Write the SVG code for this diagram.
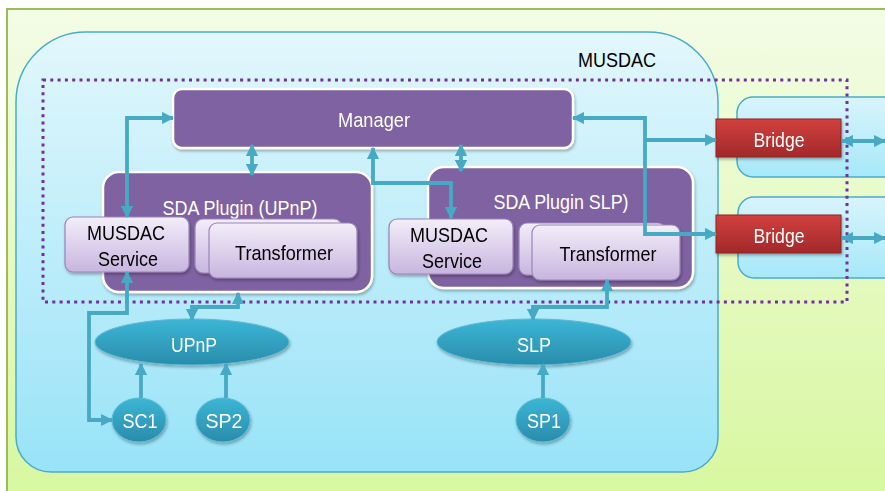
<svg xmlns="http://www.w3.org/2000/svg" width="885" height="491" viewBox="0 0 885 491">
<defs>
<linearGradient id="gBg" x1="0" y1="0" x2="0" y2="1"><stop offset="0" stop-color="#f3fce5"/><stop offset="1" stop-color="#d8f7a0"/></linearGradient>
<linearGradient id="gCyan" x1="0" y1="0" x2="0" y2="1"><stop offset="0" stop-color="#e2f7fc"/><stop offset="1" stop-color="#98e3f8"/></linearGradient>
<linearGradient id="gSide" x1="0" y1="0" x2="0" y2="1"><stop offset="0" stop-color="#d8f4fc"/><stop offset="1" stop-color="#a6e8f9"/></linearGradient>
<linearGradient id="gCard" x1="0" y1="0" x2="0" y2="1"><stop offset="0" stop-color="#f3eef9"/><stop offset="1" stop-color="#c8b5df"/></linearGradient>
<linearGradient id="gRed" x1="0" y1="0" x2="0" y2="1"><stop offset="0" stop-color="#d1403e"/><stop offset="1" stop-color="#a2292a"/></linearGradient>
<linearGradient id="gTeal" x1="0" y1="0" x2="0" y2="1"><stop offset="0" stop-color="#3cb6d6"/><stop offset="1" stop-color="#2a8cab"/></linearGradient>
<filter id="sh" x="-10%" y="-10%" width="125%" height="135%"><feDropShadow dx="1" dy="2" stdDeviation="1.5" flood-color="#000" flood-opacity="0.3"/></filter>
<marker id="ah" viewBox="0 0 10 10" refX="9" refY="5" markerWidth="3.2" markerHeight="3.2" orient="auto-start-reverse" markerUnits="strokeWidth"><path d="M0,0 L10,5 L0,10 z" fill="#47a9c4"/></marker>
<style>
.t{font-family:"Liberation Sans",Arial,sans-serif;font-size:21px;text-anchor:middle}
.w{fill:#ffffff}
.k{fill:#000000}
.purple{fill:#7f62a1;stroke:#ffffff;stroke-width:2.5}
.card{fill:url(#gCard);stroke:#9a83b8;stroke-width:1.2}
.red{fill:url(#gRed);stroke:#8e2424;stroke-width:1}
.teal{fill:url(#gTeal);stroke:#5bbad4;stroke-width:1}
.side{fill:url(#gSide);stroke:#4bacc6;stroke-width:1.5}
.c{fill:none;stroke:#47a9c4;stroke-width:3.8;stroke-linejoin:miter}
.ab{marker-end:url(#ah)}
.aa{marker-start:url(#ah);marker-end:url(#ah)}
</style>
</defs>

<g id="background">
<rect x="0" y="0" width="885" height="491" fill="#ffffff"/>
<rect x="7" y="9" width="880" height="485" fill="url(#gBg)" stroke="#9bbb59" stroke-width="2"/>
</g>

<g id="side-boxes">
<rect x="737" y="97" width="170" height="80" rx="16" class="side"/>
<rect x="738" y="197" width="170" height="81" rx="16" class="side"/>
</g>

<g id="musdac">
<path d="M86,32 H648 A70,70 0 0 1 718,102 V437 A35,35 0 0 1 683,472 H51 A35,35 0 0 1 16,437 V102 A70,70 0 0 1 86,32 Z" fill="url(#gCyan)" stroke="#4bacc6" stroke-width="1.5"/>
<text class="t k" x="617" y="67" textLength="78" lengthAdjust="spacingAndGlyphs">MUSDAC</text>
</g>

<g id="scope">
<rect x="43" y="80" width="804" height="222" fill="none" stroke="#7030a0" stroke-width="3" stroke-dasharray="3 4.3"/>
</g>

<g id="manager" filter="url(#sh)">
<rect x="173" y="89" width="400" height="59" rx="9" class="purple"/>
<text class="t w" x="374" y="127" textLength="72" lengthAdjust="spacingAndGlyphs">Manager</text>
</g>

<g id="plugin-upnp">
<rect x="103" y="172" width="269" height="120" rx="16" class="purple" filter="url(#sh)"/>
<text class="t w" x="240" y="215" textLength="155" lengthAdjust="spacingAndGlyphs">SDA Plugin (UPnP)</text>
</g>

<g id="plugin-slp">
<rect x="428" y="167" width="265" height="121" rx="16" class="purple" filter="url(#sh)"/>
<text class="t w" x="561" y="209" textLength="135" lengthAdjust="spacingAndGlyphs">SDA Plugin SLP)</text>
</g>

<g id="service-left" filter="url(#sh)">
<rect x="65" y="217" width="124" height="55" rx="8" class="card"/>
<text class="t k" x="126" y="240" textLength="78" lengthAdjust="spacingAndGlyphs">MUSDAC</text>
<text class="t k" x="128" y="266" textLength="60" lengthAdjust="spacingAndGlyphs">Service</text>
</g>

<g id="transformer-left" filter="url(#sh)">
<rect x="195" y="219" width="147" height="54" rx="8" class="card"/>
<rect x="209" y="223" width="148" height="55" rx="8" class="card"/>
<text class="t k" x="284" y="260" textLength="98" lengthAdjust="spacingAndGlyphs">Transformer</text>
</g>

<g id="service-right" filter="url(#sh)">
<rect x="389" y="219" width="124" height="55" rx="8" class="card"/>
<text class="t k" x="449" y="242" textLength="78" lengthAdjust="spacingAndGlyphs">MUSDAC</text>
<text class="t k" x="452" y="268" textLength="60" lengthAdjust="spacingAndGlyphs">Service</text>
</g>

<g id="transformer-right" filter="url(#sh)">
<rect x="519" y="223" width="147" height="52" rx="8" class="card"/>
<rect x="532" y="225" width="148" height="55" rx="8" class="card"/>
<text class="t k" x="608" y="261" textLength="97" lengthAdjust="spacingAndGlyphs">Transformer</text>
</g>

<g id="bridge-top" filter="url(#sh)">
<rect x="716" y="119" width="125" height="38" class="red"/>
<text class="t w" x="779" y="147" textLength="51" lengthAdjust="spacingAndGlyphs">Bridge</text>
</g>

<g id="bridge-bottom" filter="url(#sh)">
<rect x="716" y="215" width="125" height="38" class="red"/>
<text class="t w" x="779" y="243" textLength="51" lengthAdjust="spacingAndGlyphs">Bridge</text>
</g>

<g id="upnp" filter="url(#sh)">
<ellipse cx="192" cy="342" rx="97" ry="23" class="teal"/>
<text class="t w" x="194" y="352" textLength="46" lengthAdjust="spacingAndGlyphs">UPnP</text>
</g>

<g id="slp" filter="url(#sh)">
<ellipse cx="534" cy="342" rx="97" ry="23" class="teal"/>
<text class="t w" x="534" y="352" textLength="34" lengthAdjust="spacingAndGlyphs">SLP</text>
</g>

<g id="sc1" filter="url(#sh)">
<ellipse cx="139" cy="420" rx="27" ry="22" class="teal"/>
<text class="t w" x="140" y="428" textLength="35" lengthAdjust="spacingAndGlyphs">SC1</text>
</g>

<g id="sp2" filter="url(#sh)">
<ellipse cx="223" cy="420" rx="27" ry="22" class="teal"/>
<text class="t w" x="224" y="428" textLength="37" lengthAdjust="spacingAndGlyphs">SP2</text>
</g>

<g id="sp1" filter="url(#sh)">
<ellipse cx="543" cy="420" rx="27" ry="22" class="teal"/>
<text class="t w" x="544" y="428" textLength="34" lengthAdjust="spacingAndGlyphs">SP1</text>
</g>

<g id="connectors">
<path class="c aa" d="M127,217 V118 H173"/>
<path class="c aa" d="M252,145 V175"/>
<path class="c aa" d="M373,148 V183 H451 V218"/>
<path class="c aa" d="M461,145 V171"/>
<path class="c aa" d="M573,118 H645 V234 H716"/>
<path class="c ab" d="M645,140 H716"/>
<path class="c aa" d="M842,141 H885"/>
<path class="c aa" d="M842,238 H885"/>
<path class="c aa" d="M127,272 V313 H89 V420 H112"/>
<path class="c aa" d="M192,320 V307 H238 V293"/>
<path class="c aa" d="M533,320 V307 H607 V280"/>
<path class="c ab" d="M141,398 V364"/>
<path class="c ab" d="M226,398 V364"/>
<path class="c ab" d="M543,398 V364"/>
</g>
</svg>
